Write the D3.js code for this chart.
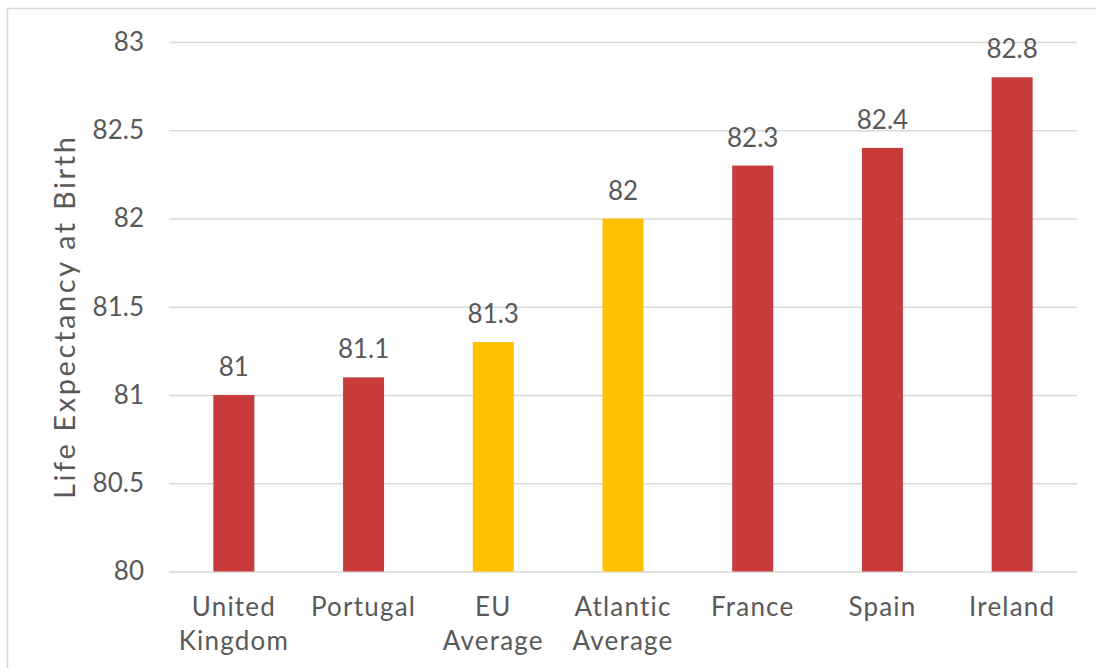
<!DOCTYPE html>
<html>
<head>
<meta charset="utf-8">
<script src="https://cdn.jsdelivr.net/npm/d3@7"></script>
<style>
  html, body { margin: 0; padding: 0; background: #fff; }
  svg { display: block; }
  text { font-family: "Lato", "Noto Sans", sans-serif; fill: #595959; }
</style>
</head>
<body>
<svg id="chart" width="1096" height="668"></svg>
<script>
// Life expectancy at birth by country / group
const categories = ["United Kingdom", "Portugal", "EU Average", "Atlantic Average", "France", "Spain", "Ireland"];
const values = [81, 81.1, 81.3, 82, 82.3, 82.4, 82.8];
const averages = ["EU Average", "Atlantic Average"];
const yTicks = [80, 80.5, 81, 81.5, 82, 82.5, 83];
const yTitle = "Life Expectancy at Birth";

const W = 1096, H = 668;
const plot = { left: 169, right: 1077, top: 42, bottom: 571.5 };

const svg = d3.select("#chart");

// outer chart frame
svg.append("rect")
  .attr("x", 7.5).attr("y", 8.5)
  .attr("width", W).attr("height", H)
  .attr("fill", "none")
  .attr("stroke", "#D9D9D9")
  .attr("stroke-width", 1.5);

const x = d3.scaleBand()
  .domain(categories)
  .range([plot.left, plot.right])
  .paddingInner(0.684)
  .paddingOuter(0.342);

const y = d3.scaleLinear()
  .domain([80, 83])
  .range([plot.bottom, plot.top]);

// horizontal gridlines + tick labels
const yAxis = d3.axisLeft(y)
  .tickValues(yTicks)
  .tickSize(-(plot.right - plot.left))
  .tickPadding(25)
  .tickFormat(d3.format("~g"));

const gy = svg.append("g")
  .attr("transform", `translate(${plot.left},0)`)
  .call(yAxis);
gy.select(".domain").remove();
gy.selectAll(".tick line")
  .attr("stroke", "#D9D9D9")
  .attr("stroke-width", 1.5);
gy.selectAll(".tick text")
  .attr("font-size", 26)
  .style("font-family", "Lato, sans-serif")
  .attr("fill", "#595959");

// bars
svg.append("g").selectAll("rect")
  .data(categories)
  .join("rect")
  .attr("x", d => x(d))
  .attr("width", x.bandwidth())
  .attr("y", (d, i) => y(values[i]))
  .attr("height", (d, i) => y(80) - y(values[i]))
  .attr("fill", d => averages.includes(d) ? "#FFC000" : "#C73B3B");

// value labels
svg.append("g").selectAll("text")
  .data(categories)
  .join("text")
  .attr("x", d => x(d) + x.bandwidth() / 2)
  .attr("y", (d, i) => y(values[i]) - 19)
  .attr("text-anchor", "middle")
  .attr("font-size", 26)
  .text((d, i) => d3.format("~g")(values[i]));

// category labels (wrapped on spaces)
const xl = svg.append("g").selectAll("text")
  .data(categories)
  .join("text")
  .attr("x", d => x(d) + x.bandwidth() / 2)
  .attr("y", 616)
  .attr("text-anchor", "middle")
  .attr("font-size", 26)
  .attr("letter-spacing", 1.2);
xl.each(function(d) {
  const t = d3.select(this);
  d.split(" ").forEach((w, k) => {
    t.append("tspan")
      .attr("x", x(d) + x.bandwidth() / 2)
      .attr("dy", k === 0 ? 0 : 34)
      .text(w);
  });
});

// y-axis title
svg.append("text")
  .attr("transform", `translate(75,${(plot.top + plot.bottom) / 2 + 10}) rotate(-90)`)
  .attr("text-anchor", "middle")
  .attr("font-size", 29)
  .attr("letter-spacing", 2.6)
  .text(yTitle);
</script>
</body>
</html>
